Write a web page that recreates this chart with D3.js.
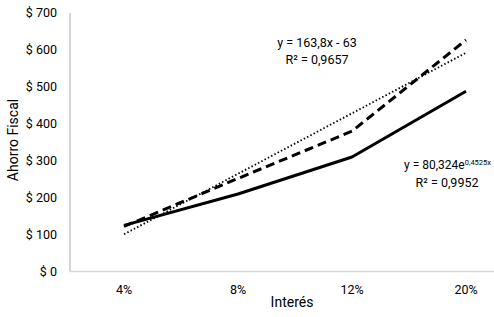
<html>
<head>
<script src="https://d3js.org/d3.v7.min.js"></script>
<style>
  body { margin: 0; background: white; }
  text { font-family: Roboto, "Liberation Sans", sans-serif; fill: #000; }
</style>
</head>
<body>
<svg id="chart" width="494" height="317"></svg>
<script>
// values
const categories = ["4%", "8%", "12%", "20%"];
const solidValues = [125, 210, 310, 488];
const dashedValues = [122, 252, 380, 627];
const yTicks = [0, 100, 200, 300, 400, 500, 600, 700];
// linear trend of the dashed series: y = 163,8x - 63
const trendSlope = 163.8;
const trendIntercept = -63;

const svg = d3.select("svg#chart");

const x = d3.scalePoint().domain(categories).range([67, 523]).padding(0.5);
const y = d3.scaleLinear().domain([0, 700]).range([271.5, 13]);

// axes lines
svg.append("line").attr("x1", 70).attr("x2", 494)
   .attr("y1", y(0)).attr("y2", y(0))
   .attr("stroke", "#d9d9d9").attr("stroke-width", 1.3);
svg.append("line").attr("x1", 70).attr("x2", 70)
   .attr("y1", y(700)).attr("y2", y(0))
   .attr("stroke", "#bfbfbf").attr("stroke-width", 1.3);

// y tick labels
svg.selectAll("text.ytick").data(yTicks)
   .join("text").attr("class", "ytick")
   .attr("x", 57).attr("y", d => y(d))
   .attr("dy", "0.35em")
   .attr("text-anchor", "end")
   .attr("font-size", 12.5)
   .text(d => "$ " + d);

// x tick labels
svg.selectAll("text.xtick").data(categories)
   .join("text").attr("class", "xtick")
   .attr("x", d => x(d)).attr("y", 290)
   .attr("dy", "0.35em")
   .attr("text-anchor", "middle")
   .attr("font-size", 12.5)
   .text(d => d);

// axis titles
svg.append("text").attr("x", 292).attr("y", 302).attr("dy", "0.35em")
   .attr("text-anchor", "middle").attr("font-size", 14).text("Interés");
svg.append("text").attr("transform", "translate(13,140) rotate(-90)")
   .attr("dy", "0.35em").attr("text-anchor", "middle")
   .attr("font-size", 14).text("Ahorro Fiscal");

const line = d3.line().x((d, i) => x(categories[i])).y(d => y(d));

// trend line (dotted)
const trend = categories.map((c, i) => trendSlope * (i + 1) + trendIntercept);
svg.append("path").datum([trend[0], trend[3]])
   .attr("d", d3.line().x((d, i) => x(categories[i * 3])).y(d => y(d)))
   .attr("fill", "none").attr("stroke", "#000")
   .attr("stroke-width", 1.8).attr("stroke-dasharray", "1.5,2.2");

svg.append("path").datum(dashedValues)
   .attr("d", line).attr("fill", "none").attr("stroke", "#000")
   .attr("stroke-width", 3).attr("stroke-dasharray", "9,5");

svg.append("path").datum(solidValues)
   .attr("d", line).attr("fill", "none").attr("stroke", "#000")
   .attr("stroke-width", 3).attr("stroke-linejoin", "round");

// equation labels
svg.append("text").attr("x", 317).attr("y", 43).attr("dy", "0.35em")
   .attr("text-anchor", "middle").attr("font-size", 12.5).text("y = 163,8x - 63");
svg.append("text").attr("x", 317).attr("y", 60).attr("dy", "0.35em")
   .attr("text-anchor", "middle").attr("font-size", 12.5).text("R² = 0,9657");

const eq2 = svg.append("text").attr("x", 491).attr("y", 165).attr("dy", "0.35em")
   .attr("text-anchor", "end").attr("font-size", 12);
eq2.append("tspan").text("y = 80,324e");
eq2.append("tspan").attr("font-size", 7.5).attr("dy", "-0.5em").text("0,4525x");
svg.append("text").attr("x", 447).attr("y", 183).attr("dy", "0.35em")
   .attr("text-anchor", "middle").attr("font-size", 12.5).text("R² = 0,9952");
</script>
</body>
</html>
